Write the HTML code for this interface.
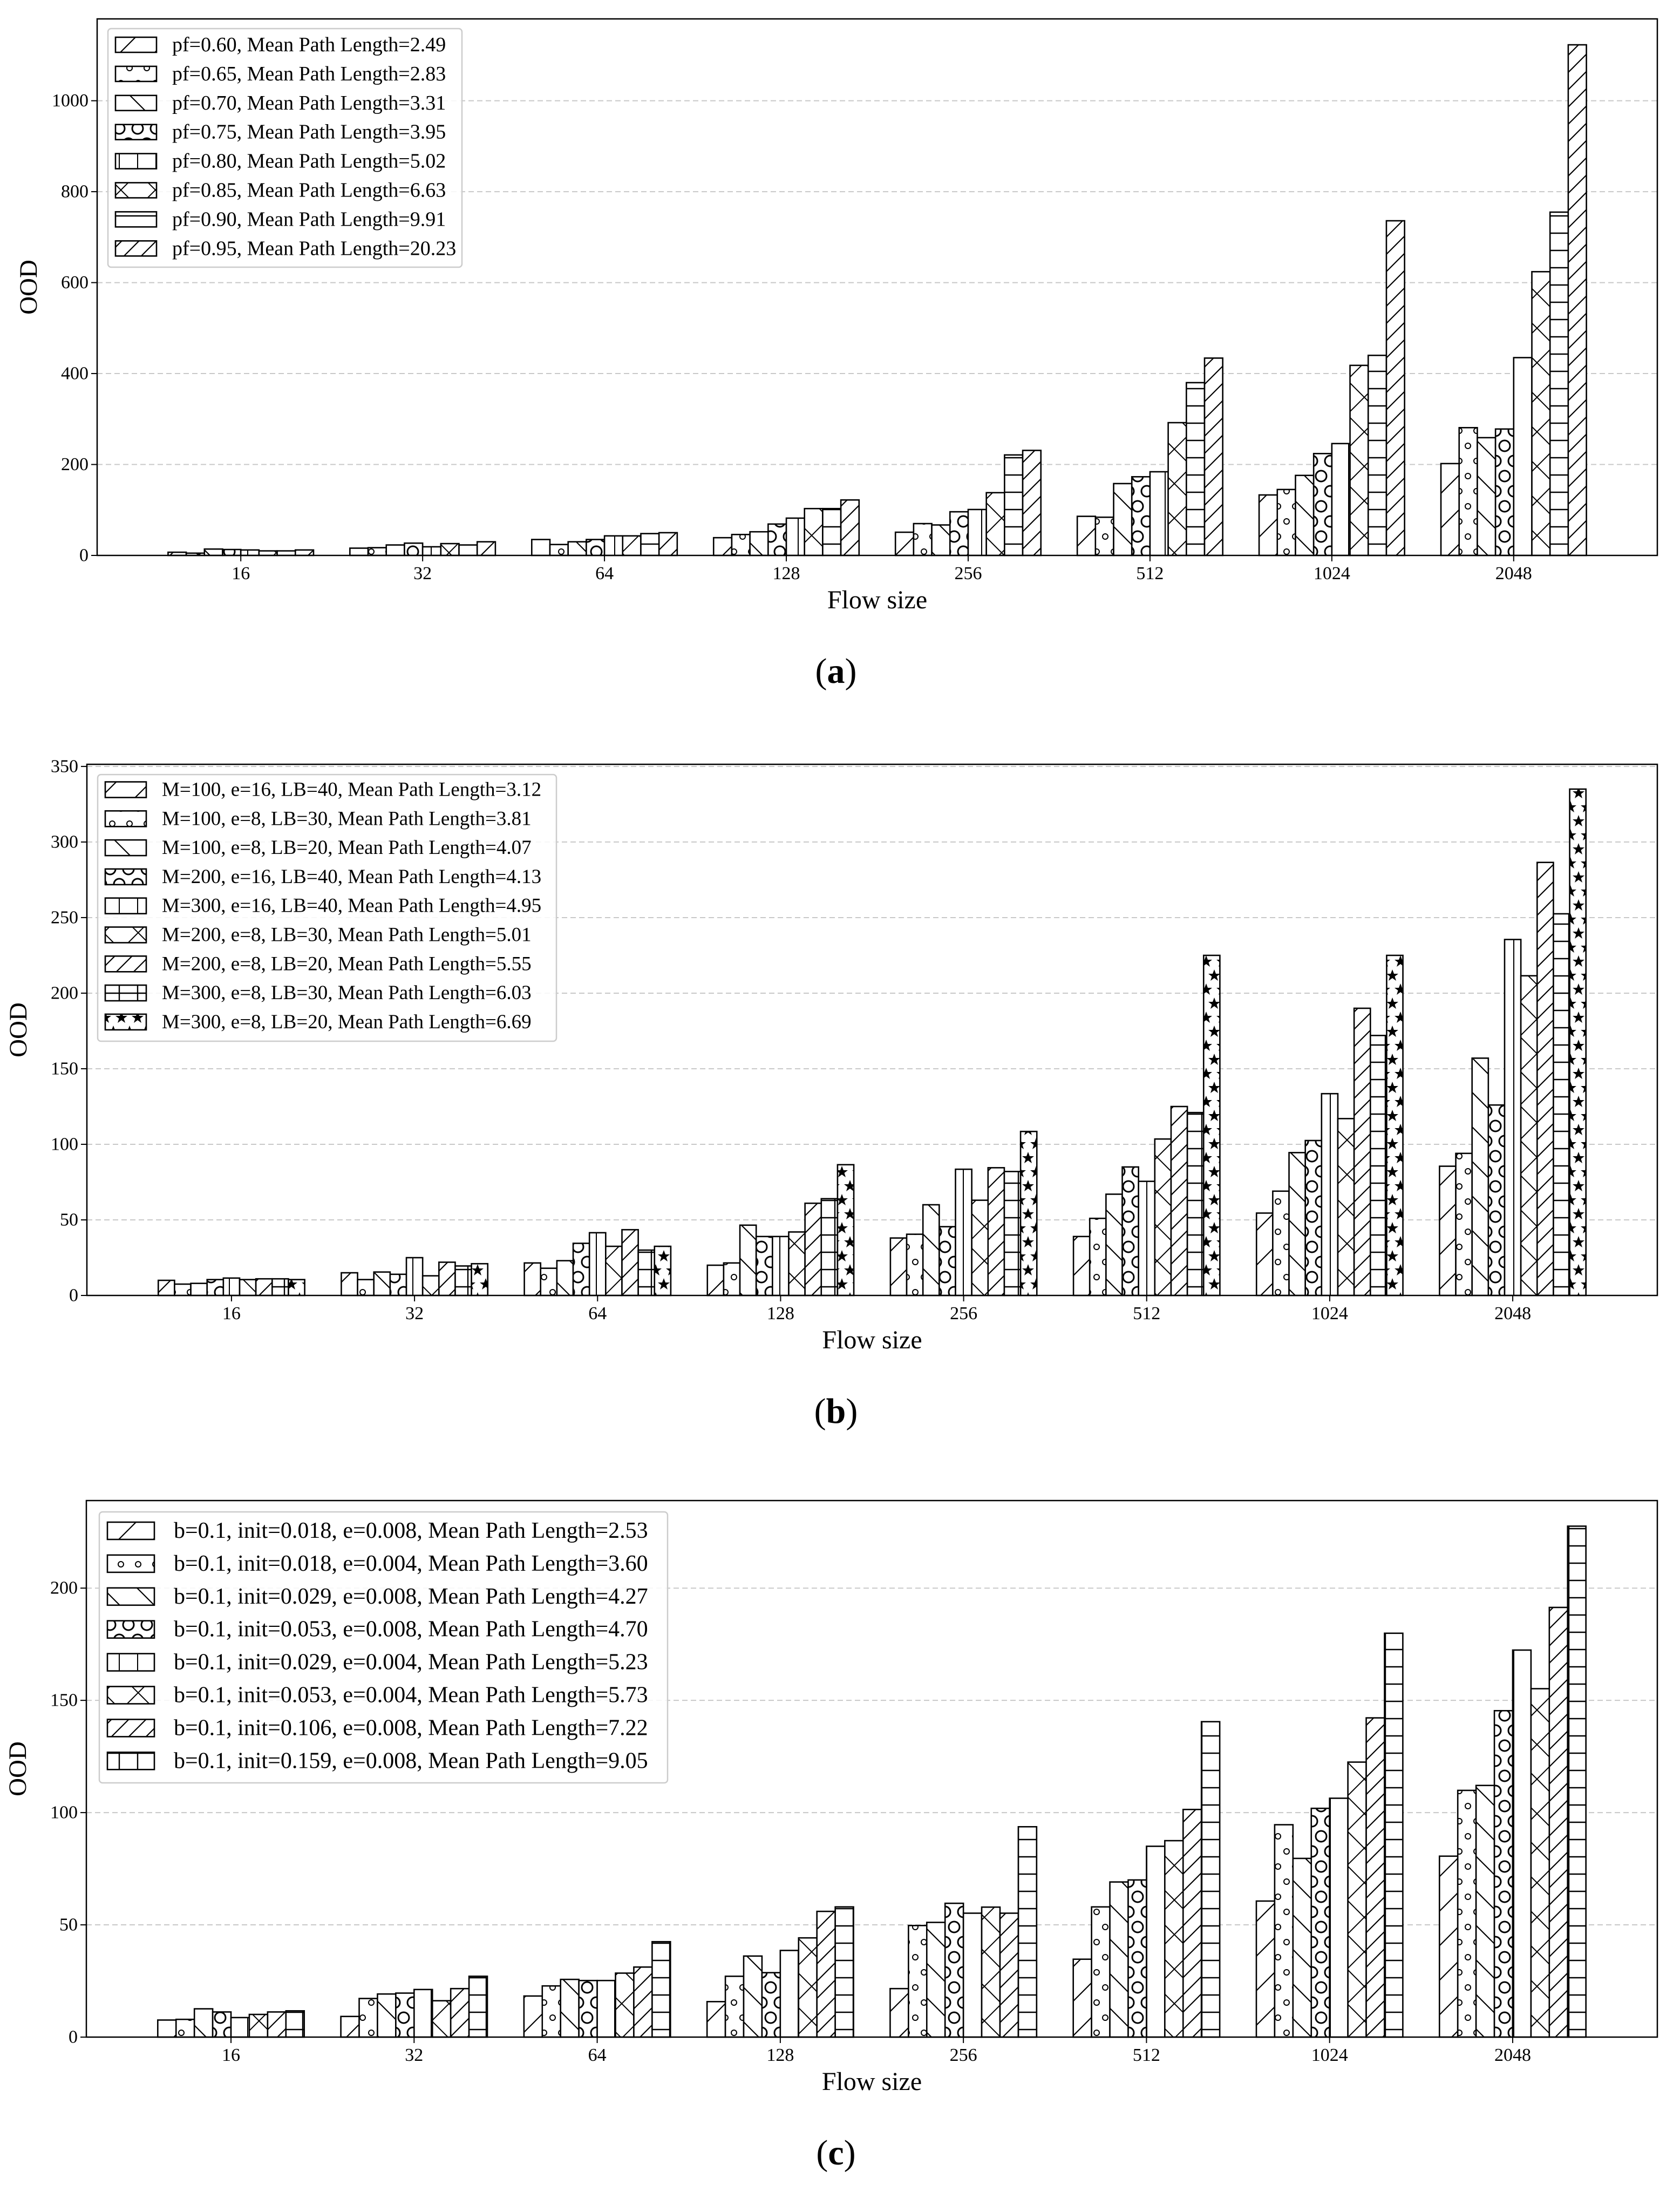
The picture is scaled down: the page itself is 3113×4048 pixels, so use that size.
<!DOCTYPE html>
<html><head><meta charset="utf-8"><style>
html,body{margin:0;padding:0;background:#fff;}
svg{display:block;}
text{font-family:"Liberation Serif","DejaVu Serif",serif;fill:#000;}
</style></head>
<body>
<svg id="fig" width="3113" height="4048" viewBox="0 0 3113 4048" xmlns="http://www.w3.org/2000/svg">
<defs>
<pattern id="h-slash" patternUnits="userSpaceOnUse" width="64" height="64"><rect width="64" height="64" fill="#fff"/><path d="M-8,8 L8,-8 M0,64 L64,0 M56,72 L72,56" stroke="#000" stroke-width="2.2"/></pattern>
<pattern id="h-bslash" patternUnits="userSpaceOnUse" width="64" height="64"><rect width="64" height="64" fill="#fff"/><path d="M-8,56 L8,72 M0,0 L64,64 M56,-8 L72,8" stroke="#000" stroke-width="2.2"/></pattern>
<pattern id="h-dslash" patternUnits="userSpaceOnUse" width="32" height="32"><rect width="32" height="32" fill="#fff"/><path d="M-8,8 L8,-8 M0,32 L32,0 M24,40 L40,24" stroke="#000" stroke-width="2.2"/></pattern>
<pattern id="h-x" patternUnits="userSpaceOnUse" width="64" height="64"><rect width="64" height="64" fill="#fff"/><path d="M0,64 L64,0 M0,0 L64,64" stroke="#000" stroke-width="2"/></pattern>
<pattern id="h-vert" patternUnits="userSpaceOnUse" width="34" height="32"><rect width="34" height="32" fill="#fff"/><path d="M17,0 L17,32" stroke="#000" stroke-width="2"/></pattern>
<pattern id="h-horiz" patternUnits="userSpaceOnUse" width="32" height="32"><rect width="32" height="32" fill="#fff"/><path d="M0,16 L32,16" stroke="#000" stroke-width="2.4"/></pattern>
<pattern id="h-plus" patternUnits="userSpaceOnUse" width="34" height="32"><rect width="34" height="32" fill="#fff"/><path d="M17,0 L17,32 M0,16 L34,16" stroke="#000" stroke-width="2.4"/></pattern>
<pattern id="h-o" patternUnits="userSpaceOnUse" width="32" height="56"><rect width="32" height="56" fill="#fff"/><circle cx="16" cy="14" r="5" fill="none" stroke="#000" stroke-width="2"/><circle cx="0" cy="42" r="5" fill="none" stroke="#000" stroke-width="2"/><circle cx="32" cy="42" r="5" fill="none" stroke="#000" stroke-width="2"/></pattern>
<pattern id="h-O" patternUnits="userSpaceOnUse" width="34" height="56"><rect width="34" height="56" fill="#fff"/><circle cx="17" cy="14" r="10" fill="none" stroke="#000" stroke-width="3"/><circle cx="0" cy="42" r="10" fill="none" stroke="#000" stroke-width="3"/><circle cx="34" cy="42" r="10" fill="none" stroke="#000" stroke-width="3"/></pattern>
<pattern id="h-star" patternUnits="userSpaceOnUse" width="30" height="52"><rect width="30" height="52" fill="#fff"/><polygon points="15,2 18,10 26,10 19.5,15 22,23 15,18 8,23 10.5,15 4,10 12,10" fill="#000"/><polygon points="0,28 3,36 11,36 4.5,41 7,49 0,44 -7,49 -4.5,41 -11,36 -3,36" fill="#000"/><polygon points="30,28 33,36 41,36 34.5,41 37,49 30,44 23,49 25.5,41 19,36 27,36" fill="#000"/></pattern>
</defs>
</svg>
<script>
const categories = ["16","32","64","128","256","512","1024","2048"];

const labelsA = ["pf=0.60, Mean Path Length=2.49","pf=0.65, Mean Path Length=2.83","pf=0.70, Mean Path Length=3.31","pf=0.75, Mean Path Length=3.95","pf=0.80, Mean Path Length=5.02","pf=0.85, Mean Path Length=6.63","pf=0.90, Mean Path Length=9.91","pf=0.95, Mean Path Length=20.23"];
const valuesA1 = [7,16,35,39,51,86,133,202];
const valuesA2 = [5,17,24,46,70,84,145,281];
const valuesA3 = [14,23,30,52,67,158,176,259];
const valuesA4 = [13,27,35,69,96,173,224,278];
const valuesA5 = [12,19,43,82,101,184,246,435];
const valuesA6 = [10,26,43,103,138,292,418,624];
const valuesA7 = [10,23,48,103,221,380,440,755];
const valuesA8 = [12,30,50,122,231,434,736,1123];
const ticksA = [0,200,400,600,800,1000];

const labelsB = ["M=100, e=16, LB=40, Mean Path Length=3.12","M=100, e=8, LB=30, Mean Path Length=3.81","M=100, e=8, LB=20, Mean Path Length=4.07","M=200, e=16, LB=40, Mean Path Length=4.13","M=300, e=16, LB=40, Mean Path Length=4.95","M=200, e=8, LB=30, Mean Path Length=5.01","M=200, e=8, LB=20, Mean Path Length=5.55","M=300, e=8, LB=30, Mean Path Length=6.03","M=300, e=8, LB=20, Mean Path Length=6.69"];
const valuesB1 = [10,15,21.5,20,38,39,54.5,85.5];
const valuesB2 = [7.5,10.5,18,21.5,40.5,51,69,94];
const valuesB3 = [8,15.5,23,46.5,60,67,94.5,157];
const valuesB4 = [10.5,14,34.5,39,45.5,85,102.5,126];
const valuesB5 = [11.5,25,41.5,39,83.5,75.5,133.5,235.5];
const valuesB6 = [10.5,13,32.5,42,63,103.5,117,211.5];
const valuesB7 = [11,22,43.5,61,84.5,125,190,286.5];
const valuesB8 = [11,19.5,30,64,82,121,172,252.5];
const valuesB9 = [10.5,21,32.5,86.5,108.5,225,225,335];
const ticksB = [0,50,100,150,200,250,300,350];

const labelsC = ["b=0.1, init=0.018, e=0.008, Mean Path Length=2.53","b=0.1, init=0.018, e=0.004, Mean Path Length=3.60","b=0.1, init=0.029, e=0.008, Mean Path Length=4.27","b=0.1, init=0.053, e=0.008, Mean Path Length=4.70","b=0.1, init=0.029, e=0.004, Mean Path Length=5.23","b=0.1, init=0.053, e=0.004, Mean Path Length=5.73","b=0.1, init=0.106, e=0.008, Mean Path Length=7.22","b=0.1, init=0.159, e=0.008, Mean Path Length=9.05"];
const valuesC1 = [7.6,9.2,18.3,15.8,21.6,34.7,60.6,80.6];
const valuesC2 = [7.9,17.2,22.8,27.1,49.7,58,94.6,109.9];
const valuesC3 = [12.6,19.2,25.7,36.1,51.1,69.1,79.6,112.1];
const valuesC4 = [11.2,19.6,25.2,28.7,59.6,70,101.9,145.4];
const valuesC5 = [8.7,21.2,25.2,38.6,55.2,85,106.4,172.4];
const valuesC6 = [10.1,16.2,28.5,44.2,57.9,87.5,122.5,155.2];
const valuesC7 = [11.2,21.6,31.2,56,55.2,101.4,142.2,191.4];
const valuesC8 = [11.7,27.1,42.5,58,93.7,140.5,179.9,227.6];
const ticksC = [0,50,100,150,200];

const NS = "http://www.w3.org/2000/svg";
const svg = document.getElementById("fig");
function mk(tag, attrs, parent){
  const e = document.createElementNS(NS, tag);
  for (const k in attrs) e.setAttribute(k, attrs[k]);
  (parent||svg).appendChild(e);
  return e;
}

function drawPanel(p){
  const g = mk("g", {});
  
  
  const unit = (p.right - p.left) / 8.58;
  const xPos = i => p.left + (i + 0.79) * unit;
  const yPos = v => p.bottom - v / p.ymax * (p.bottom - p.top);
  const n = p.series.length;
  const bw = 0.8 / n * unit;

  p.ticks.forEach(t => {
    const y = yPos(t);
    if (t !== 0) {
      const gl = mk("line", {x1:p.left, x2:p.right, y1:y, y2:y, stroke:"#c8c8c8", "stroke-width":2, "stroke-dasharray":"10,6"}, g);
      
      
    }
    const tk = mk("line", {x1:p.left-11, x2:p.left, y1:y, y2:y, stroke:"#000", "stroke-width":2}, g);
    
    
    const tl = mk("text", {x:p.left-16, y:y, "font-size":34, "text-anchor":"end", "dominant-baseline":"central"}, g);
    tl.textContent = String(t);
    
    
  });

  p.series.forEach((vals, j) => {
    vals.forEach((v, i) => {
      const x0 = xPos(i) - 0.4 * unit + j * bw;
      const y = yPos(v);
      const r = mk("rect", {x:x0, y:y, width:bw, height:p.bottom - y, fill:"url(#" + p.hatches[j] + ")", stroke:"#000", "stroke-width":2.6}, g);
      
      
    });
  });

  categories.forEach((c, i) => {
    const x = xPos(i);
    const tk = mk("line", {x1:x, x2:x, y1:p.bottom, y2:p.bottom+11, stroke:"#000", "stroke-width":2}, g);
    
    
    const tl = mk("text", {x:x, y:p.bottom+44, "font-size":34, "text-anchor":"middle"}, g);
    tl.textContent = c;
    
    
  });

  const fr = mk("rect", {x:p.left, y:p.top, width:p.right-p.left, height:p.bottom-p.top, fill:"none", stroke:"#000", "stroke-width":2.5}, g);
  
  

  const lg = mk("g", {}, g);
  
  
  const lb = mk("rect", {x:p.leg.x, y:p.leg.y, width:p.leg.w, height:p.leg.h, rx:6, fill:"#fff", "fill-opacity":0.85, stroke:"#cccccc", "stroke-width":2.5}, lg);
  
  
  p.labels.forEach((lab, j) => {
    const cy = p.leg.row0 + j * p.leg.step;
    const pr = mk("rect", {x:p.leg.px, y:cy - p.leg.ph/2, width:p.leg.pw, height:p.leg.ph, fill:"url(#" + p.hatches[j] + ")", stroke:"#000", "stroke-width":2.6}, lg);
    
    
    const t = mk("text", {x:p.leg.tx, y:cy, "font-size":p.leg.fs, "dominant-baseline":"central"}, lg);
    t.textContent = lab;
    
    
  });

  const yl = mk("text", {x:0, y:0, "font-size":47, "text-anchor":"middle", transform:"translate(" + (p.left-112) + "," + ((p.top+p.bottom)/2) + ") rotate(-90)"}, g);
  yl.textContent = "OOD";
  
  
  const xl = mk("text", {x:(p.left+p.right)/2, y:p.bottom+98, "font-size":48, "text-anchor":"middle"}, g);
  xl.textContent = "Flow size";
  
  
  const cap = mk("text", {x:1549, y:p.bottom+236, "font-size":66, "text-anchor":"middle"}, g);
  cap.innerHTML = '(<tspan font-weight="bold">' + p.letter + '</tspan>)';
  
  
}

drawPanel({
  name:"panel-a", letter:"a", left:180, right:3071, top:35, bottom:1029, ymax:1180, ticks:ticksA,
  series:[valuesA1,valuesA2,valuesA3,valuesA4,valuesA5,valuesA6,valuesA7,valuesA8],
  hatches:["h-slash","h-o","h-bslash","h-O","h-vert","h-x","h-horiz","h-dslash"],
  labels:labelsA,
  leg:{x:200,y:53,w:656,h:442,row0:83,step:53.9,px:214,pw:76,ph:28,tx:319,fs:38}
});
drawPanel({
  name:"panel-b", letter:"b", left:161, right:3071, top:1416, bottom:2400, ymax:351.4, ticks:ticksB,
  series:[valuesB1,valuesB2,valuesB3,valuesB4,valuesB5,valuesB6,valuesB7,valuesB8,valuesB9],
  hatches:["h-slash","h-o","h-bslash","h-O","h-vert","h-x","h-dslash","h-plus","h-star"],
  labels:labelsB,
  leg:{x:181,y:1435,w:850,h:494,row0:1463,step:53.8,px:195,pw:76,ph:29,tx:300,fs:37}
});
drawPanel({
  name:"panel-c", letter:"c", left:160, right:3071, top:2780, bottom:3774, ymax:239, ticks:ticksC,
  series:[valuesC1,valuesC2,valuesC3,valuesC4,valuesC5,valuesC6,valuesC7,valuesC8],
  hatches:["h-slash","h-o","h-bslash","h-O","h-vert","h-x","h-dslash","h-plus"],
  labels:labelsC,
  leg:{x:184,y:2801,w:1053,h:502,row0:2836,step:60.9,px:199,pw:87,ph:32,tx:322,fs:42}
});
</script>
</body></html>
